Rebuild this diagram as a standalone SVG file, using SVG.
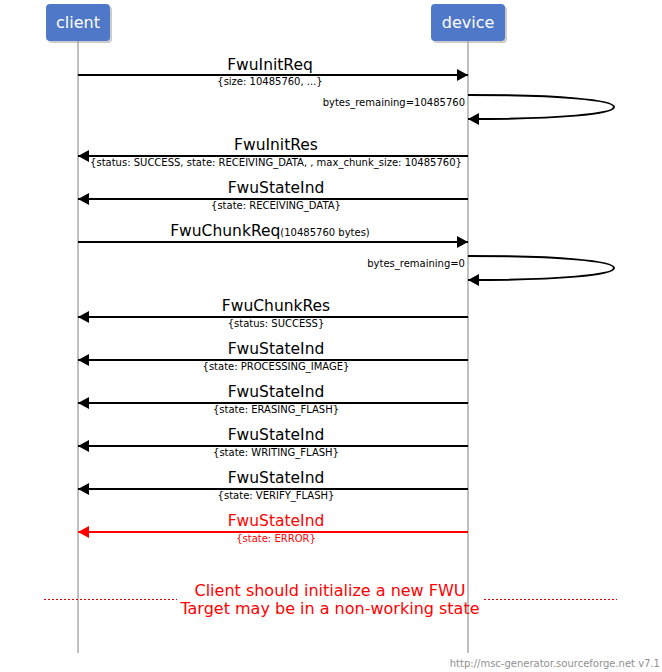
<svg xmlns="http://www.w3.org/2000/svg" width="662" height="672" viewBox="0 0 662 672">
<style>
text{font-family:"DejaVu Sans","Noto Sans",sans-serif}
.ent{fill:#5078c8}
.sh{fill:#9a9a9a;opacity:0.5}
.et{fill:#fff;font-size:16px;text-anchor:middle}
.life{stroke:#c0c0c0;stroke-width:2}
.msg{stroke:#000;stroke-width:2;fill:none}
.red{stroke:#ff0000}
.t{font-size:15.5px;text-anchor:middle;fill:#000}
.s{font-size:10px;text-anchor:middle;fill:#000}
.r{fill:#ff0000}
.sl{font-size:10px;text-anchor:end;fill:#000}
.div{stroke:#e00000;stroke-width:1;stroke-dasharray:2,2}
.dt{font-size:16px;text-anchor:middle;fill:#ff0000}
.foot{font-size:10px;text-anchor:end;fill:#909090}
</style>
<defs>
<marker id="ah" viewBox="0 0 11 12" refX="11" refY="6" markerWidth="11" markerHeight="12" markerUnits="userSpaceOnUse" orient="auto"><path d="M0,0 L11,6 L0,12 z" fill="#000"/></marker>
<marker id="ahr" viewBox="0 0 11 12" refX="11" refY="6" markerWidth="11" markerHeight="12" markerUnits="userSpaceOnUse" orient="auto"><path d="M0,0 L11,6 L0,12 z" fill="#ff0000"/></marker>
</defs>
<g id="lifelines">
<line class="life" x1="78" y1="40" x2="78" y2="653"/>
<line class="life" x1="468" y1="40" x2="468" y2="653"/>
</g>
<g id="client">
<rect class="sh" x="48" y="6" width="64" height="37" rx="4"/>
<rect class="ent" x="46" y="4" width="64" height="37" rx="4"/>
<text class="et" x="78" y="28">client</text>
</g>
<g id="device">
<rect class="sh" x="433" y="6" width="74" height="37" rx="4"/>
<rect class="ent" x="431" y="4" width="74" height="37" rx="4"/>
<text class="et" x="468" y="28">device</text>
</g>
<g id="connectors">
<line class="msg" x1="78" y1="75" x2="468" y2="75" marker-end="url(#ah)"/>
<path class="msg" d="M468,95 C560,95 614,100 614,107 C614,114 560,119 468,119" marker-end="url(#ah)"/>
<line class="msg" x1="468" y1="156" x2="78" y2="156" marker-end="url(#ah)"/>
<line class="msg" x1="468" y1="199" x2="78" y2="199" marker-end="url(#ah)"/>
<line class="msg" x1="78" y1="242" x2="468" y2="242" marker-end="url(#ah)"/>
<path class="msg" d="M468,256 C560,256 614,261 614,268 C614,275 560,280 468,280" marker-end="url(#ah)"/>
<line class="msg" x1="468" y1="317" x2="78" y2="317" marker-end="url(#ah)"/>
<line class="msg" x1="468" y1="360" x2="78" y2="360" marker-end="url(#ah)"/>
<line class="msg" x1="468" y1="403" x2="78" y2="403" marker-end="url(#ah)"/>
<line class="msg" x1="468" y1="446" x2="78" y2="446" marker-end="url(#ah)"/>
<line class="msg" x1="468" y1="489" x2="78" y2="489" marker-end="url(#ah)"/>
<line class="msg red" x1="468" y1="532" x2="78" y2="532" marker-end="url(#ahr)"/>
</g>
<g id="labels">
<text class="t" x="270" y="70">FwuInitReq</text>
<text class="s" x="270" y="85">{size: 10485760, ...}</text>
<text class="sl" x="465" y="106">bytes_remaining=10485760</text>
<text class="t" x="276" y="150">FwuInitRes</text>
<text class="s" x="276" y="166">{status: SUCCESS, state: RECEIVING_DATA, , max_chunk_size: 10485760}</text>
<text class="t" x="276" y="193">FwuStateInd</text>
<text class="s" x="276" y="209">{state: RECEIVING_DATA}</text>
<text x="270" y="236" style="text-anchor:middle"><tspan style="font-size:15.5px">FwuChunkReq</tspan><tspan style="font-size:10px">(10485760 bytes)</tspan></text>
<text class="sl" x="465" y="267">bytes_remaining=0</text>
<text class="t" x="276" y="311">FwuChunkRes</text>
<text class="s" x="276" y="327">{status: SUCCESS}</text>
<text class="t" x="276" y="354">FwuStateInd</text>
<text class="s" x="276" y="370">{state: PROCESSING_IMAGE}</text>
<text class="t" x="276" y="397">FwuStateInd</text>
<text class="s" x="276" y="413">{state: ERASING_FLASH}</text>
<text class="t" x="276" y="440">FwuStateInd</text>
<text class="s" x="276" y="456">{state: WRITING_FLASH}</text>
<text class="t" x="276" y="483">FwuStateInd</text>
<text class="s" x="276" y="499">{state: VERIFY_FLASH}</text>
<text class="t r" x="276" y="526">FwuStateInd</text>
<text class="s r" x="276" y="542">{state: ERROR}</text>
</g>
<g id="divider">
<line class="div" x1="44" y1="599.5" x2="177" y2="599.5"/>
<line class="div" x1="484" y1="599.5" x2="617" y2="599.5"/>
<text class="dt" x="330" y="596">Client should initialize a new FWU</text>
<text class="dt" x="330" y="614">Target may be in a non-working state</text>
</g>
<text class="foot" x="660" y="667">http://msc-generator.sourceforge.net v7.1</text>
</svg>
